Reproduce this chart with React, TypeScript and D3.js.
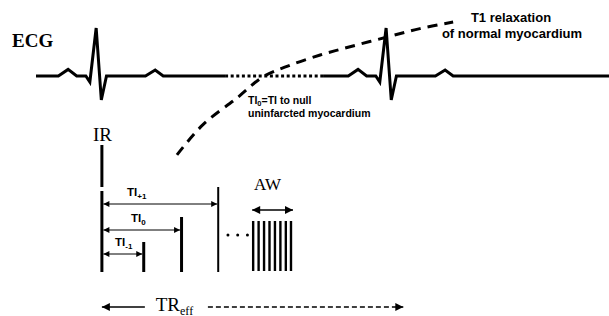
import React from "react";
import * as d3 from "d3";

// ---- data (time in ms, amplitude in arbitrary units) ----
const beatOffsets = [-66, -49, -34, -18, -11, 0, 9, 18, 86, 103, 117];
const beatAmps = [0, 0.22, 0, 0, -0.2, 1.6, -0.8, 0, 0, 0.2, 0];
const rPeaks = [105, 611];
const solidSegments = [[0, 330], [501, 1000]];
const dottedSegment = [330, 501];

const t1Time = [246, 291, 351, 396, 438, 496, 553, 613, 670, 728];
const t1Mz = [-2.63, -1.63, -0.73, -0.03, 0.32, 0.7, 1.0, 1.3, 1.58, 1.8];

const irTime = 115;
const tiTimes = [188, 254, 318];
const tiSubs = ["-1", "0", "+1"];
const dotTimes = [335, 352, 369];
const awTimes = [379, 388.5, 398, 407.5, 417, 426.5, 436, 445];
const trEff = { start: 115, solidEnd: 190, label: 209, dashStart: 300, end: 641 };

const W = 609;
const H = 316;

export default function App() {
  const x = d3.scaleLinear().domain([0, 1000]).range([36, 609]);
  const y = d3.scaleLinear().domain([-1, 2]).range([106, 16]);

  const beatPts: [number, number][] = [];
  rPeaks.forEach((r) => beatOffsets.forEach((o, i) => beatPts.push([r + o, beatAmps[i]])));

  const line = d3
    .line<[number, number]>()
    .x((d) => x(d[0]))
    .y((d) => y(d[1]));

  const segPath = (t0: number, t1: number) => {
    const pts: [number, number][] = [[t0, 0], ...beatPts.filter((p) => p[0] > t0 && p[0] < t1), [t1, 0]];
    return line(pts) || "";
  };

  const curve = d3
    .line<[number, number]>()
    .x((d) => x(d[0]))
    .y((d) => y(d[1]))
    .curve(d3.curveCatmullRom.alpha(0.5));
  const t1Pts = t1Time.map((t, i) => [t, t1Mz[i]] as [number, number]);

  // layout for pulse diagram
  const barBottom = 272;
  const arrowYs = [254, 230, 204];
  const barTops = [242, 217, 187];
  const barWidths = [3, 3, 2];
  const labelX = [115, 131, 127];
  const xi = x(irTime);

  const sans = "'Liberation Sans', Arial, sans-serif";
  const serif = "'Liberation Serif', 'Times New Roman', serif";

  return (
    <svg width={W} height={H} style={{ position: "absolute", left: 0, top: 0, background: "#fff" }}>
      <defs>
        <marker id="ah" viewBox="0 0 8 8" refX="8" refY="4" markerWidth="7" markerHeight="6" markerUnits="userSpaceOnUse" orient="auto-start-reverse">
          <path d="M0,0 L8,4 L0,8 z" fill="#000" />
        </marker>
        <marker id="ah2" viewBox="0 0 8 8" refX="8" refY="4" markerWidth="9" markerHeight="8" markerUnits="userSpaceOnUse" orient="auto-start-reverse">
          <path d="M0,0 L8,4 L0,8 z" fill="#000" />
        </marker>
      </defs>
      <rect width={W} height={H} fill="#fff" />

      {/* ECG */}
      <text x={12} y={47} fontFamily={serif} fontWeight="bold" fontSize={19}>ECG</text>
      {solidSegments.map((s, i) => (
        <path key={i} d={segPath(s[0], s[1])} fill="none" stroke="#000" strokeWidth={3} strokeLinejoin="miter" />
      ))}
      <line x1={x(dottedSegment[0])} x2={x(dottedSegment[1])} y1={y(0)} y2={y(0)} stroke="#000" strokeWidth={3} strokeDasharray="3,2.6" />

      {/* T1 recovery curve */}
      <path d={curve(t1Pts) || ""} fill="none" stroke="#000" strokeWidth={3} strokeDasharray="10,7" />

      <text fontFamily={sans} fontWeight="bold" fontSize={13} textAnchor="middle" fill="#000">
        <tspan x={511} y={22}>T1 relaxation</tspan>
        <tspan x={512} y={38}>of normal myocardium</tspan>
      </text>

      <text fontFamily={sans} fontWeight="bold" fontSize={10.5} fill="#000">
        <tspan x={248} y={104}>TI</tspan>
        <tspan fontSize={7.5} dy={2}>0</tspan>
        <tspan dy={-2}>=TI to null</tspan>
        <tspan x={248} y={117}>uninfarcted myocardium</tspan>
      </text>

      {/* IR pulse */}
      <text x={93} y={141} fontFamily={serif} fontSize={19}>IR</text>
      <line x1={xi} x2={xi} y1={145} y2={187} stroke="#000" strokeWidth={3} />
      <line x1={xi} x2={xi} y1={191} y2={barBottom} stroke="#000" strokeWidth={3} />

      {tiTimes.map((t, i) => (
        <g key={i}>
          <line x1={x(t)} x2={x(t)} y1={barTops[i]} y2={barBottom} stroke="#000" strokeWidth={barWidths[i]} />
          <line
            x1={xi + 1.5}
            x2={x(t) - barWidths[i] / 2}
            y1={arrowYs[i]}
            y2={arrowYs[i]}
            stroke="#000"
            strokeWidth={1}
            markerStart="url(#ah)"
            markerEnd="url(#ah)"
          />
          <text x={labelX[i]} y={arrowYs[i] - 8} fontFamily={sans} fontWeight="bold" fontSize={11.5}>
            TI
            <tspan fontSize={8} dy={3}>{tiSubs[i]}</tspan>
          </text>
        </g>
      ))}

      {dotTimes.map((t, i) => (
        <circle key={i} cx={x(t)} cy={235} r={1.5} fill="#000" />
      ))}

      {/* AW */}
      <text x={254} y={190} fontFamily={serif} fontSize={17}>AW</text>
      <line
        x1={x(awTimes[0]) - 1}
        x2={x(awTimes[awTimes.length - 1]) + 2}
        y1={210}
        y2={210}
        stroke="#000"
        strokeWidth={1.3}
        markerStart="url(#ah2)"
        markerEnd="url(#ah2)"
      />
      {awTimes.map((t, i) => (
        <line key={i} x1={x(t)} x2={x(t)} y1={221} y2={271} stroke="#000" strokeWidth={2.4} />
      ))}

      {/* TR eff */}
      <line x1={x(trEff.start)} x2={x(trEff.solidEnd)} y1={307} y2={307} stroke="#000" strokeWidth={1.5} markerStart="url(#ah2)" />
      <text x={x(trEff.label)} y={311} fontFamily={serif} fontSize={19}>
        TR<tspan fontSize={12} dy={3.5}>eff</tspan>
      </text>
      <line
        x1={x(trEff.dashStart)}
        x2={x(trEff.end)}
        y1={307}
        y2={307}
        stroke="#000"
        strokeWidth={1.5}
        strokeDasharray="5,3"
        markerEnd="url(#ah2)"
      />
    </svg>
  );
}
